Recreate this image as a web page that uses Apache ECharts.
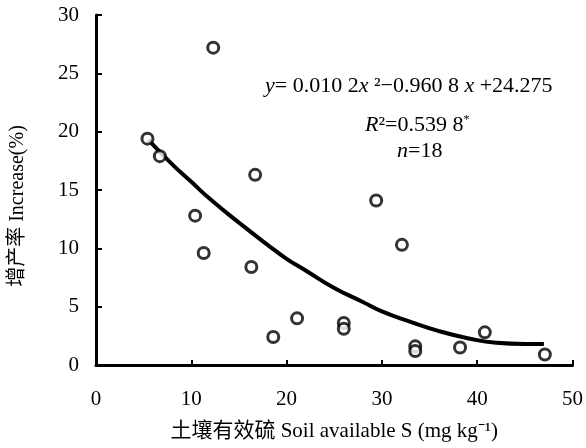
<!DOCTYPE html>
<html>
  <head>
    <meta charset="UTF-8">
    <title>Soil S vs increase</title>
    <script src="https://cdn.jsdelivr.net/npm/echarts@6/dist/echarts.min.js"></script>
    <style>
      html, body { margin: 0; padding: 0; background: #fff; }
      #main { width: 586px; height: 448px; }
    </style>
  </head>
  <body>
    <div id="main"></div>
    <script type="text/javascript">
      // 观测点 (土壤有效硫, 增产率)
      var soilS = [5.4, 6.7, 12.3, 16.7, 10.4, 11.3, 16.3, 18.6, 21.1, 26.0, 26.0, 32.1, 29.4, 33.5, 33.5, 38.2, 40.8, 47.1];
      var increase = [19.4, 17.9, 27.2, 16.3, 12.8, 9.6, 8.4, 2.4, 4.0, 3.6, 3.1, 10.3, 14.1, 1.6, 1.2, 1.5, 2.8, 0.9];

      // 拟合曲线
      var fitX = [5.5, 8, 10, 12, 15, 18, 20, 22, 25, 28, 30, 33, 36, 39, 42, 45, 47];
      var fitY = [19.3, 17.2, 15.7, 14.2, 12.2, 10.3, 9.1, 8.1, 6.6, 5.4, 4.6, 3.7, 2.9, 2.3, 1.9, 1.8, 1.8];

      var xTicks = [0, 10, 20, 30, 40, 50];
      var yTicks = [0, 5, 10, 15, 20, 25, 30];

      var serif = '"Liberation Serif", "Noto Sans CJK SC", serif';

      var points = [];
      for (var i = 0; i < soilS.length; i++) {
        points.push([soilS[i], increase[i]]);
      }
      var curve = [];
      for (var j = 0; j < fitX.length; j++) {
        curve.push([fitX[j], fitY[j]]);
      }

      var txt = {
        i: { fontFamily: serif, fontSize: 22, fontStyle: 'italic', fill: '#000' },
        n: { fontFamily: serif, fontSize: 22, fill: '#000' },
        s: { fontFamily: serif, fontSize: 12, fill: '#000', verticalAlign: 'top', padding: [0, 0, 10, 0] }
      };

      var app = echarts.init(document.getElementById('main'));
      app.setOption({
        animation: false,
        backgroundColor: '#fff',
        grid: { left: 95, right: 11, top: 15, bottom: 83 },
        xAxis: {
          type: 'value',
          min: xTicks[0],
          max: xTicks[xTicks.length - 1],
          interval: 10,
          name: '土壤有效硫 Soil available S (mg kg⁻¹)',
          nameLocation: 'middle',
          nameGap: 56,
          nameTextStyle: { color: '#000', fontFamily: serif, fontSize: 21 },
          axisLine: { lineStyle: { color: '#000', width: 3 } },
          axisTick: { inside: true, length: 5, lineStyle: { color: '#000', width: 2 } },
          axisLabel: { color: '#000', fontFamily: serif, fontSize: 21, margin: 24 },
          splitLine: { show: false }
        },
        yAxis: {
          type: 'value',
          min: yTicks[0],
          max: yTicks[yTicks.length - 1],
          interval: 5,
          name: '增产率 Increase(%)',
          nameLocation: 'middle',
          nameGap: 68,
          nameTextStyle: { color: '#000', fontFamily: serif, fontSize: 20, padding: [0, 32, 0, 0] },
          axisLine: { lineStyle: { color: '#000', width: 3 } },
          axisTick: { inside: true, length: 6, lineStyle: { color: '#000', width: 2 } },
          axisLabel: { color: '#000', fontFamily: serif, fontSize: 21, margin: 17 },
          splitLine: { show: false }
        },
        graphic: [
          {
            type: 'text',
            left: 265,
            top: 75,
            style: {
              text: '{i|y}{n|= 0.010 2}{i|x}{n| ²−0.960 8 }{i|x}{n| +24.275}',
              rich: txt
            }
          },
          {
            type: 'text',
            left: 365,
            top: 114,
            style: {
              text: '{i|R}{n|²=0.539 8}{s|*}',
              rich: txt
            }
          },
          {
            type: 'text',
            left: 397,
            top: 140,
            style: {
              text: '{i|n}{n|=18}',
              rich: txt
            }
          }
        ],
        series: [
          {
            name: 'fit',
            type: 'line',
            data: curve,
            smooth: true,
            symbol: 'none',
            lineStyle: { color: '#000', width: 4 },
            z: 2
          },
          {
            name: 'obs',
            type: 'scatter',
            data: points,
            symbol: 'circle',
            symbolSize: 11,
            itemStyle: { color: '#fff', borderColor: '#000', borderWidth: 3 },
            z: 3
          }
        ]
      });
    </script>
  </body>
</html>
